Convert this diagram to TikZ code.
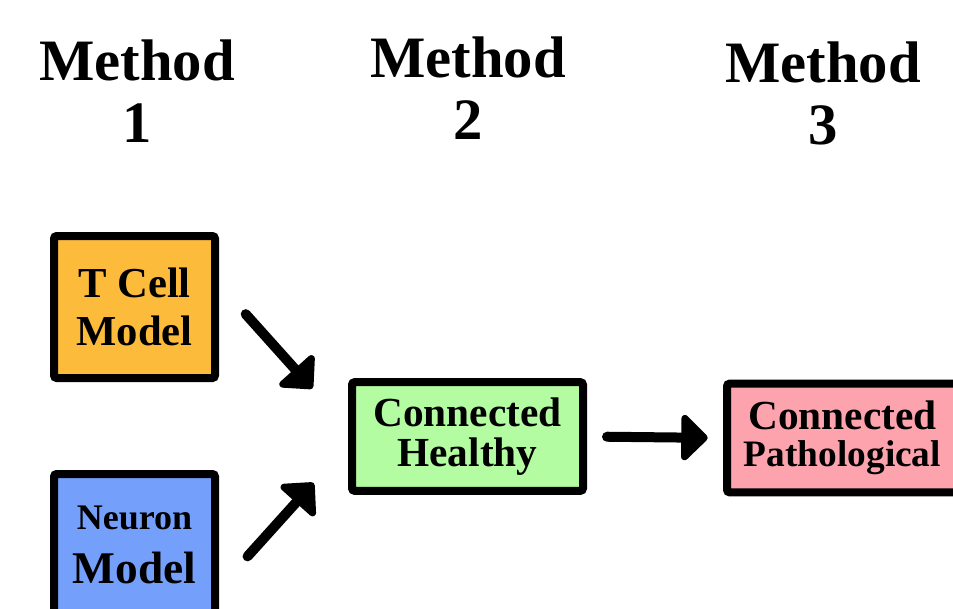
\documentclass[tikz,border=0pt]{standalone}
\usepackage{fontspec}
\setmainfont{Liberation Serif}
\usetikzlibrary{arrows.meta}
\definecolor{tcellorange}{RGB}{253,187,60}
\definecolor{neuronblue}{RGB}{116,160,251}
\definecolor{healthygreen}{RGB}{179,252,161}
\definecolor{pathopink}{RGB}{252,163,173}
\newcommand\fsz[1]{\fontsize{#1}{#1}\selectfont}
\begin{document}
\begin{tikzpicture}[x=0.75pt,y=-0.75pt,
  heading/.style={align=center,inner sep=0pt,font=\fontsize{44}{46.5}\selectfont\bfseries},
  model/.style={draw,line width=6pt,rounded corners=2pt,align=center,inner sep=0pt,
    minimum width=120.75pt,minimum height=106.5pt},
  state/.style={draw,line width=6pt,rounded corners=2pt,align=center,inner sep=0pt,
    minimum width=173.25pt,minimum height=81.5pt},
  link/.style={line width=7.5pt,line cap=round,-{Triangle[round,length=21pt,width=40pt]}}]
\useasboundingbox (0,0) rectangle (953,608);
\clip (0,0) rectangle (953,608);
\node[heading] (m1) at (137,91) {Method\\1};
\node[heading] (m2) at (468,88) {Method\\2};
\node[heading] (m3) at (823,93) {Method\\3};
\node[model,fill=tcellorange,font=\fontsize{32}{36}\selectfont\bfseries] (tcell) at (134.5,307) {T Cell\\Model};
\node[model,fill=neuronblue,font=\fontsize{34}{40}\selectfont\bfseries] (neuron) at (134.5,545) {{\fsz{27}Neuron}\\Model};
\node[state,fill=healthygreen,font=\fontsize{31}{30}\selectfont\bfseries] (healthy) at (467.5,436.5) {Connected\\Healthy};
\node[state,fill=pathopink,font=\fontsize{31}{28}\selectfont\bfseries] (patho) at (842.5,438) {Connected\\{\fsz{28}Pathological}};
\draw[link,shorten <=30pt,shorten >=40pt] (tcell.15) -- (healthy.176);
\draw[link,shorten <=32pt,shorten >=38.5pt] (neuron.-27) -- (healthy.184);
\draw[link,shorten <=15pt,shorten >=11.5pt] (healthy.east) -- (patho.west);
\end{tikzpicture}
\end{document}
